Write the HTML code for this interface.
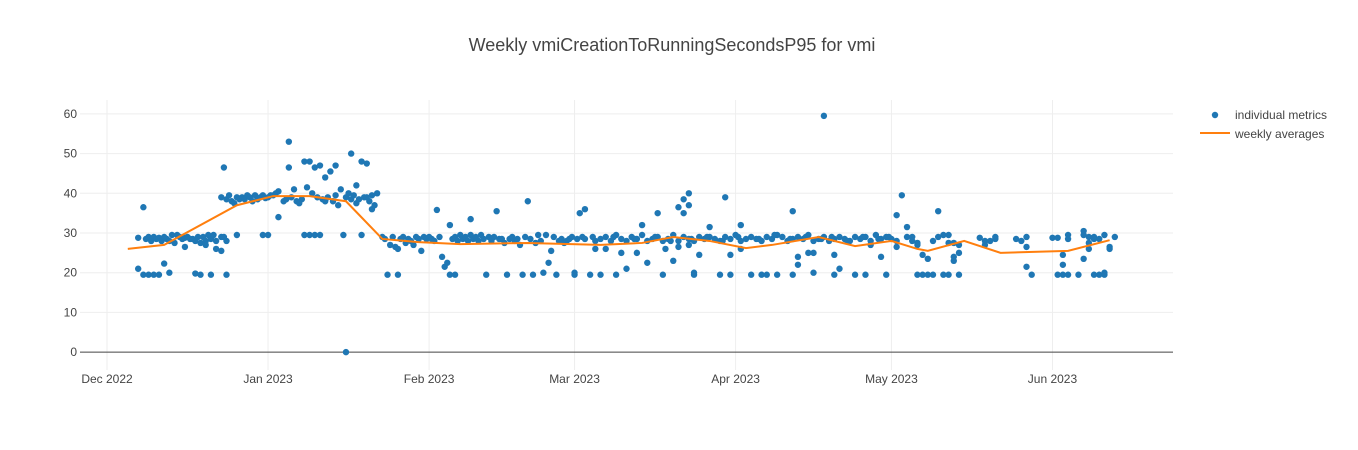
<!DOCTYPE html>
<html><head><meta charset="utf-8">
<style>
html,body{margin:0;padding:0;background:#fff;}
svg{display:block;font-family:"Liberation Sans",Arial,sans-serif;}
</style></head>
<body>
<svg id="chart" width="1358" height="450" viewBox="0 0 1358 450">
<text x="672" y="51" text-anchor="middle" font-size="18" fill="#444">Weekly vmiCreationToRunningSecondsP95 for vmi</text>
<g id="grid"></g><g id="axes"></g><g id="marks"></g>
<g>
<circle cx="1215" cy="115" r="3.2" fill="#1f77b4"></circle>
<text x="1235" y="119" font-size="12" fill="#444">individual metrics</text>
<line x1="1200" y1="133" x2="1230" y2="133" stroke="#ff7f0e" stroke-width="2"></line>
<text x="1235" y="138" font-size="12" fill="#444">weekly averages</text>
</g>
</svg>
<script>
// days since 2022-12-01
const monthTicks=[0,31,62,90,121,151,182];
const monthLabels=["Dec 2022","Jan 2023","Feb 2023","Mar 2023","Apr 2023","May 2023","Jun 2023"];
const yTicks=[0,10,20,30,40,50,60];
const daysA=[6,6,7,7,7.5,8,8,8.5,9,9,9.5,10,10,10.5,11,11,11.5,12,12,12.5,13,13.5,14,14.5,15,15,15.5,16,16.5,17,17,17.5,18,18,18.5,19,19,19.5,20,20,20.5,21,21,22,22,22.5,23,23];
const valsA=[28.8,21,36.5,19.5,28.5,29,19.5,28,29,19.5,28.5,28.8,19.5,28,29,22.3,28.5,28,20,29.5,27.5,29.5,29,28.5,28.8,26.5,29,28.5,28.5,19.8,28,29,27.5,19.5,29,28,27,29.5,28.5,19.5,29.5,28,26,29,25.5,29,28,19.5];
const daysB=[22,22.5,23,23.5,24,24.5,25,25,25.5,26,26.5,27,27.5,28,28.5,29,29.5,30,30,30.5,31,31,31.5,32,32.5,33,33];
const valsB=[39,46.5,38.5,39.5,38,37.5,39,29.5,38.5,39,38.5,39.5,39,38,39.5,38.5,39,39.5,29.5,38.8,29.5,39,39.5,39.5,40,34,40.5];
const daysC=[34,34.5,35,35,35.5,36,36.5,37,37.5,38,38,38.5,39,39,39.5,40,40,40.5,41,41,41.5,42,42,42.5,43,43.5,44,44,44.5,45,45.5,46,46,46.5,47,47,47.5,48,48,48.5,49,49,49.5,50,50,50.5,51,51,51.5,52];
const valsC=[38,38.5,53,46.5,39,41,38,37.5,38.5,48,29.5,41.5,48,29.5,40,46.5,29.5,39,47,29.5,38.5,44,38,39,45.5,38,47,39.5,37,41,29.5,39,0,40,50,38.5,39.5,42,37.5,38.5,48,29.5,39,47.5,39,38,36,39.5,37,40];
const daysD=[53,53.5,54,54.5,55,55.5,56,56,56.5,57,57.5,58,58.5,59,59.5,60,60.5,61,61.5,62,62.5,63.5,63,64,64.5,65,65.5,66,67,66,66.5,67,70,67.5,68,68.5,69,69.5,70,70.5,71,71.5,72,72.5,73,73.5,74,75,74.5,75.5,76,76.5,77,77.5,78,78.5,79,79.5,80,80.5,81,81.5,82,82.5,83,83.5,84,84.5,85,85.5,86,86.5,87,87.5,88,88.5,89,89.5,90,90,90.5,91,91.5,92,92,93,93.5,94];
const valsD=[29,28.5,19.5,27,29,26.5,19.5,26,28.5,29,27.5,28.5,28,27,29,28.5,25.5,29,28.5,29,28.5,35.8,28,29,24,21.5,22.5,19.5,19.5,32,28.5,29,33.5,28,29.5,28.5,29,28,29.5,28.5,29,28,29.5,28.5,19.5,29,28,35.5,29,28.5,28.5,27.5,19.5,28.5,29,28,28.5,27,19.5,29,38,28.5,19.5,27.5,29.5,28,20,29.5,22.5,25.5,29,19.5,28,28.5,27.5,28,28.5,29,19.5,20,28.5,35,29,36,28.5,19.5,29,28];
const daysE=[95,96,97,98,99,100,101,102,103,104,105,106,107,108,109,110,111,112,113,114,115,116,117,118,119,120,121,122,123,124,125,126,127,128,129,130,131,132,133,134,135,136,137,138,139,140,141,142,143,144,145,146,147,148,149,150,151,152,97.5,101.5,105.5,108.5,112.5,115.5,118.5,121.5,125.5,128.5,131.5,134.5,137.5,139.5,142.5,145.5,148.5,150.5];
const valsE=[28.5,29,28,29.5,28.5,28,29,28.5,29.5,28,28.5,29,28,28.5,29.5,28,29,28.5,28,29,28.5,29,28.5,28,29,28.5,29.5,28,28.5,29,28.5,28,29,28.5,29.5,29,28,28.5,29,28.5,29.5,28,28.5,29,28,28.5,29,28.5,28,29,28.5,29,28,29.5,28.5,29,28.5,28,29,28.5,29,28,28.5,29,28,29,28.5,29.5,28.5,29,28.5,29,28,29,28.5,29];
const daysO=[94,95,96,98,99,100,102,103,104,106,107,107.5,109,110,110,111,111,112,112,112,113,113,114,116,118,119,120,120,122,122,124,126,127,129,132,132,133,133,135,136,136,138,140,140,141,144,146,147,149,150,152,152];
const valsO=[26,19.5,26,19.5,25,21,25,32,22.5,35,19.5,26,23,26.5,36.5,38.5,35,40,37,27,19.5,20,24.5,31.5,19.5,39,24.5,19.5,32,26,19.5,19.5,19.5,19.5,35.5,19.5,22,24,25,25,20,59.5,24.5,19.5,21,19.5,19.5,27,24,19.5,34.5,26.5];
const daysF=[153,154,154,155,155,156,156,157,158,156,157,158,159,159,160,160,161,162,161,162,162,163,163,163,164,164,164,168,169,169,170,171,171,175,176,177,177,177,178,182,183,184,184,184,183,185,185,185,187,188,188,188,189,189,189,190,190,190,191,192,192,193,193,194,191,192];
const valsF=[39.5,31.5,29,29,28,27.5,27,24.5,23.5,19.5,19.5,19.5,19.5,28,35.5,29,29.5,29.5,19.5,19.5,27.5,27.5,24,23,25,27,19.5,28.8,28,27,28,29,28.5,28.5,28,29,26.5,21.5,19.5,28.8,28.8,24.5,22,19.5,19.5,29.5,28.5,19.5,19.5,30.5,29.5,23.5,29,27.5,26,29,28.5,19.5,19.5,20,29.5,26.5,26,29,28.5,19.5];
const avgDays=[4,11,25,32,39,46,53,60,68,81,95,103,109,116,123,128,137,144,151,156,158,165,172,185,193];
const avgValues=[26,27,37,39.3,39.3,38,28.5,27.7,27.2,27.5,27,27.5,29,28,26.2,27,29,26.7,28,26,25.5,28,25,25.5,28.2];

const NS="http://www.w3.org/2000/svg";
const PL=80,PR=1173,PT=100,PB=370;
const X0=-5.2,X1=205.2,Y0=-4.5,Y1=63.5;
function xs(d){return PL+(d-X0)/(X1-X0)*(PR-PL);}
function ys(v){return PB-(v-Y0)/(Y1-Y0)*(PB-PT);}
function mk(tag,attrs,parent){const e=document.createElementNS(NS,tag);for(const k in attrs)e.setAttribute(k,attrs[k]);parent.appendChild(e);return e;}
const grid=document.getElementById('grid'),axes=document.getElementById('axes'),marks=document.getElementById('marks');
monthTicks.forEach((d,i)=>{
  const l=mk('line',{x1:xs(d),x2:xs(d),y1:PT,y2:PB,stroke:'#eee','stroke-width':1},grid);
  
  
  const t=mk('text',{x:xs(d),y:PB+13,'text-anchor':'middle','font-size':12,fill:'#444'},axes);
  t.textContent=monthLabels[i];
  
  
});
yTicks.forEach(v=>{
  const l=mk('line',{x1:PL,x2:PR,y1:ys(v),y2:ys(v),stroke:v===0?'#444':'#eee','stroke-width':1},grid);
  
  
  const t=mk('text',{x:PL-3,y:ys(v)+4,'text-anchor':'end','font-size':12,fill:'#444'},axes);
  t.textContent=v;
  
  
});
const days=[].concat(daysA,daysB,daysC,daysD,daysE,daysO,daysF);
const vals=[].concat(valsA,valsB,valsC,valsD,valsE,valsO,valsF);
days.forEach((d,i)=>{
  const c=mk('circle',{cx:xs(d),cy:ys(vals[i]),r:3.2,fill:'#1f77b4'},marks);
  
  
});
const pts=avgDays.map((d,i)=>xs(d)+','+ys(avgValues[i])).join(' ');
const pl=mk('polyline',{points:pts,fill:'none',stroke:'#ff7f0e','stroke-width':2},marks);


</script>
</body></html>
